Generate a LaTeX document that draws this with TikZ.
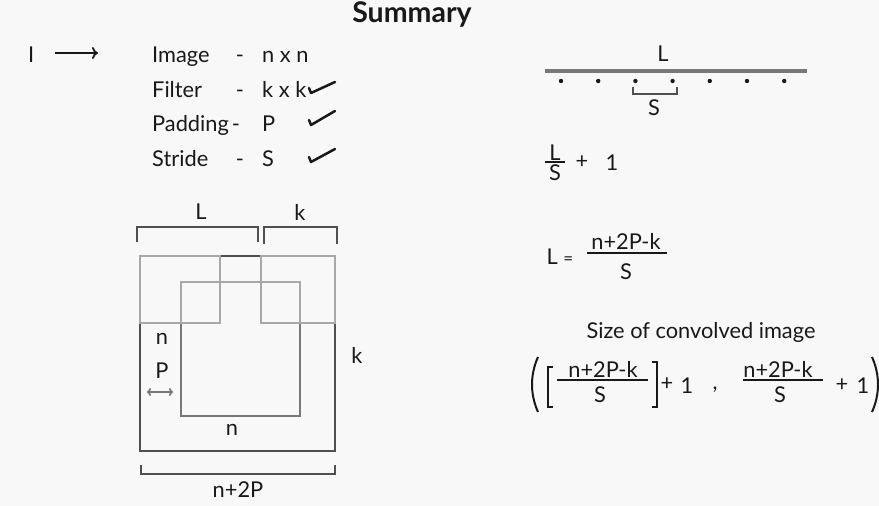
\documentclass[tikz,border=0pt]{standalone}
\usepackage{fontspec}
\setmainfont{Lato}
\usetikzlibrary{arrows.meta}

\definecolor{bgcol}{RGB}{248,248,248}
\definecolor{ink}{RGB}{25,25,25}
\definecolor{darkline}{RGB}{80,80,80}
\definecolor{midline}{RGB}{120,120,120}
\definecolor{lightline}{RGB}{168,168,168}

\tikzset{
  txt/.style={font=\fontsize{21.8}{25}\selectfont, text=ink, inner sep=0pt},
  brack/.style={line width=2.4pt, darkline},
  chk/.style={line width=2.5pt, ink, line cap=round, line join=round},
  sq/.style={line width=2.8pt},
}

\begin{document}
\begin{tikzpicture}[x=1pt,y=-1pt]
\fill[bgcol] (0,0) rectangle (879,506);
\useasboundingbox (0,0) rectangle (879,506);

% title
\node[txt, font=\fontsize{28.5}{30}\selectfont\bfseries, anchor=base] (title) at (412,23) {Summary};

% I -> list
\node[txt, anchor=base west] (I) at (28,62) {I};
\coordinate (arrS) at (55,53);
\coordinate (arrE) at (98,53);
\draw[line width=1.8pt, ink, -{To[length=6pt,width=12pt]}] (arrS) -- (arrE);
\foreach \nm/\dx/\val/\yy [count=\i] in {Image/240/n x n/62, Filter/240/k x k/97, Padding/236/P/131, Stride/240/S/166}
{
  \node[txt, anchor=base west] (lab\i) at (152,\yy) {\nm};
  \node[txt, anchor=base] (dash\i) at (\dx,\yy) {-};
  \node[txt, anchor=base west] (val\i) at (262,\yy) {\val};
}
\foreach \yy/\hh in {88/11, 120/14, 157/13}
  \draw[chk] (309,\yy) -- ++(2,5) -- ++(24,-\hh);

% padded image with filter
\draw[sq, darkline] (140,256) rectangle (335,451);
\draw[sq, midline] (181,323) -- (181,416) -- (300,416) -- (300,323);
\draw[sq, lightline] (181,323) -- (181,282) -- (300,282) -- (300,323);
\draw[sq, lightline] (140,256) rectangle (220,323);
\draw[sq, lightline] (261,256) rectangle (335,323);
\draw[sq, darkline] (221,256) -- (260,256);

\draw[brack] (137,242) -- (137,227) -- (258,227) -- (258,242);
\draw[brack] (264,244) -- (264,227) -- (337,227) -- (337,244);
\draw[brack] (141,465) -- (141,474) -- (335,474) -- (335,465);
\node[txt] (Ltop) at (201,212) {L};
\node[txt] (ktop) at (300,212) {k};
\node[txt] (nleft) at (162,339) {n};
\node[txt] (Pleft) at (162,371) {P};
\coordinate (padA) at (147,392);
\coordinate (padB) at (173,392);
\draw[line width=1.8pt, midline, {To[length=4pt,width=8pt]}-{To[length=4pt,width=8pt]}] (padA) -- (padB);
\node[txt] (nbot) at (232,430) {n};
\node[txt] (kright) at (357,355) {k};
\node[txt] (npad) at (238,490) {n+2P};

% stride along L
\draw[line width=4.5pt, midline] (545,71) -- (807,71);
\node[txt] (Lline) at (663,54) {L};
\foreach \i in {0,...,6}
  \fill[ink] (561+37.2*\i,81) circle (2.2pt);
\draw[line width=2pt, darkline] (633,87) -- (633,94) -- (677,94) -- (677,87);
\node[txt] (Sline) at (654,108) {S};

% L/S + 1
\node[txt] (fL) at (555,153) {L};
\draw[line width=1.8pt, ink] (545,162) -- (565,162);
\node[txt] (fS) at (555,173) {S};
\node[txt] (fplus) at (582,162) {+};
\node[txt] (fone) at (612,163) {1};

% L = (n+2P-k)/S
\node[txt] (Leq) at (560,257) {L {\fontsize{17}{17}\selectfont =}};
\node[txt] (Lnum) at (626,241) {n+2P-k};
\draw[line width=1.8pt, ink] (587,253) -- (667,253);
\node[txt] (Lden) at (626,272) {S};

% size of convolved image
\node[txt, anchor=base] (size) at (701,338) {Size of convolved image};
\draw[line width=2pt, ink] (538,357) .. controls (530,375) and (530,394) .. (538,412);
\draw[line width=2pt, ink] (553,367) -- (548,367) -- (548,407) -- (553,407);
\node[txt] (numA) at (603,369) {n+2P-k};
\draw[line width=1.8pt, ink] (557,380) -- (648,380);
\node[txt] (denA) at (600,395) {S};
\draw[line width=2pt, ink] (652,362) -- (657,362) -- (657,407) -- (652,407);
\node[txt] (plusA) at (667,384) {+};
\node[txt] (oneA) at (687,386) {1};
\node[txt] (comma) at (715,390) {,};
\node[txt] (numB) at (778,369) {n+2P-k};
\draw[line width=1.8pt, ink] (743,380) -- (823,380);
\node[txt] (denB) at (780,395) {S};
\node[txt] (plusB) at (842,385) {+};
\node[txt] (oneB) at (863,386) {1};
\draw[line width=2pt, ink] (872,357) .. controls (880,375) and (880,394) .. (872,412);
\end{tikzpicture}
\end{document}
